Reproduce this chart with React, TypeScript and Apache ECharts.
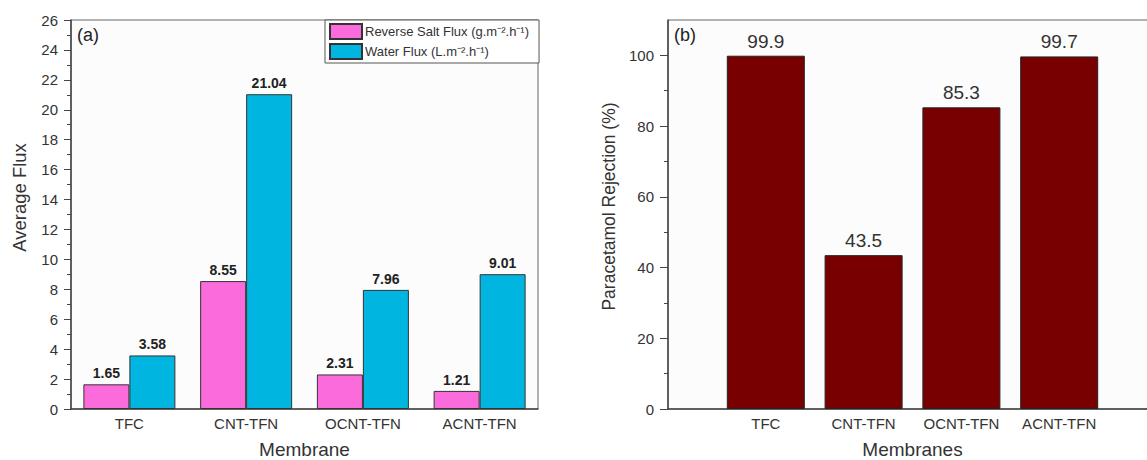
import React, { useEffect, useRef } from "react";
import * as echarts from "echarts";

const categories = ["TFC", "CNT-TFN", "OCNT-TFN", "ACNT-TFN"];
const saltFlux = [1.65, 8.55, 2.31, 1.21];
const waterFlux = [3.58, 21.04, 7.96, 9.01];
const rejection = [99.9, 43.5, 85.3, 99.7];
const rejectionMajorTicks = [0, 20, 40, 60, 80, 100];
const rejectionMinorTicks = [10, 30, 50, 70, 90];
const saltName = "Reverse Salt Flux (g.m\u207B\u00B2.h\u207B\u00B9)";
const waterName = "Water Flux (L.m\u207B\u00B2.h\u207B\u00B9)";

const FONT = "Liberation Sans, Arial, sans-serif";
const AXIS = "#444";
const TXT = "#333";

export default function App() {
  const ref = useRef<HTMLDivElement>(null);
  useEffect(() => {
    if (!ref.current) return;
    const chart = echarts.init(ref.current, null, { renderer: "svg" });
    const option: any = {
      animation: false,
      backgroundColor: "#fff",
      textStyle: { fontFamily: FONT },
      grid: [
        { left: 71, right: 609, top: 20, bottom: 51, show: true, borderColor: "#666", borderWidth: 1, backgroundColor: "#fcfcfc", outerBoundsMode: "none", containLabel: false },
        { left: 668, right: -10, top: 20, bottom: 51, show: true, borderColor: "#666", borderWidth: 1, backgroundColor: "#fcfcfc", outerBoundsMode: "none", containLabel: false },
      ],
      legend: {
        data: [saltName, waterName],
        orient: "vertical",
        left: 325,
        top: 20,
        itemWidth: 32,
        itemHeight: 15,
        itemGap: 3,
        padding: [3, 10, 3, 4],
        backgroundColor: "#fff",
        borderColor: "#555",
        borderWidth: 1,
        icon: "rect",
        textStyle: { fontSize: 13, color: TXT, fontFamily: FONT, padding: [0, 0, 0, -2] },
      },
      xAxis: [
        {
          type: "category",
          gridIndex: 0,
          data: categories,
          axisLine: { lineStyle: { color: AXIS, width: 1.5 } },
          axisTick: { show: false },
          axisLabel: { fontSize: 15, color: TXT, margin: 7, fontFamily: FONT },
          name: "Membrane",
          nameLocation: "middle",
          nameGap: 31,
          nameTextStyle: { fontSize: 19, color: TXT, fontFamily: FONT },
        },
        {
          type: "value",
          gridIndex: 1,
          min: 0,
          max: 5,
          interval: 1,
          splitLine: { show: false },
          axisLine: { lineStyle: { color: AXIS, width: 1.5 } },
          axisTick: { show: false },
          axisLabel: {
            fontSize: 15,
            color: TXT,
            margin: 7,
            fontFamily: FONT,
            formatter: (v: number) => categories[v - 1] || "",
          },
          name: "Membranes",
          nameLocation: "middle",
          nameGap: 31,
          nameTextStyle: { fontSize: 19, color: TXT, fontFamily: FONT },
        },
      ],
      yAxis: [
        {
          type: "value",
          gridIndex: 0,
          min: 0,
          max: 26,
          interval: 2,
          splitLine: { show: false },
          axisLine: { show: true, lineStyle: { color: AXIS, width: 1.5 } },
          axisTick: { show: true, inside: false, length: 7, lineStyle: { color: AXIS } },
          minorTick: { show: true, splitNumber: 2, length: 4, lineStyle: { color: AXIS } },
          axisLabel: { fontSize: 15, color: TXT, margin: 13, fontFamily: FONT },
          name: "Average Flux",
          nameLocation: "middle",
          nameGap: 42,
          nameTextStyle: { fontSize: 18.5, color: TXT, fontFamily: FONT, padding: [0, 0, 0, 34] },
        },
        {
          type: "value",
          gridIndex: 1,
          position: "left",
          min: 0,
          max: 110,
          splitLine: { show: false },
          axisLine: { show: true, lineStyle: { color: AXIS, width: 1.5 } },
          axisTick: { show: true, length: 8, lineStyle: { color: AXIS }, customValues: rejectionMajorTicks },
          axisLabel: { fontSize: 15, color: TXT, margin: 14, fontFamily: FONT, customValues: rejectionMajorTicks },
          name: "Paracetamol Rejection (%)",
          nameLocation: "middle",
          nameGap: 50,
          nameTextStyle: { fontSize: 17.5, color: TXT, fontFamily: FONT, padding: [0, 0, 0, 16] },
        },
        {
          type: "value",
          gridIndex: 1,
          position: "left",
          min: 0,
          max: 110,
          splitLine: { show: false },
          axisLine: { show: false },
          axisTick: { show: true, length: 4, lineStyle: { color: AXIS }, customValues: rejectionMinorTicks },
          axisLabel: { show: false, customValues: rejectionMinorTicks },
        },
      ],
      series: [
        {
          name: saltName,
          type: "bar",
          xAxisIndex: 0,
          yAxisIndex: 0,
          data: saltFlux,
          barWidth: 46,
          barGap: "0%",
          itemStyle: { color: "#fb6bdb", borderColor: "#333", borderWidth: 1 },
          label: { show: true, position: "top", distance: 4, fontSize: 14, fontWeight: "bold", color: "#222", fontFamily: FONT },
        },
        {
          name: waterName,
          type: "bar",
          xAxisIndex: 0,
          yAxisIndex: 0,
          data: waterFlux,
          barWidth: 46,
          barGap: "0%",
          itemStyle: { color: "#00b6e0", borderColor: "#333", borderWidth: 1 },
          label: { show: true, position: "top", distance: 4, fontSize: 14, fontWeight: "bold", color: "#222", fontFamily: FONT },
        },
        {
          name: "Rejection",
          type: "bar",
          xAxisIndex: 1,
          yAxisIndex: 1,
          data: rejection.map((v, i) => [i + 1, v]),
          barWidth: 78,
          itemStyle: { color: "#780000", borderColor: "#222", borderWidth: 1 },
          label: { show: true, position: "top", distance: 5, fontSize: 19, color: "#333", fontFamily: FONT, formatter: (p: any) => p.value[1] },
        },
      ],
      graphic: [
        { type: "text", left: 77, top: 26, style: { text: "(a)", fontSize: 18, fill: "#222", fontFamily: FONT } },
        { type: "text", left: 674, top: 26, style: { text: "(b)", fontSize: 18, fill: "#222", fontFamily: FONT } },
      ],
    };
    chart.setOption(option);
    return () => chart.dispose();
  }, []);
  return <div ref={ref} style={{ position: "fixed", left: 0, top: 0, width: 1147, height: 460 }} />;
}
